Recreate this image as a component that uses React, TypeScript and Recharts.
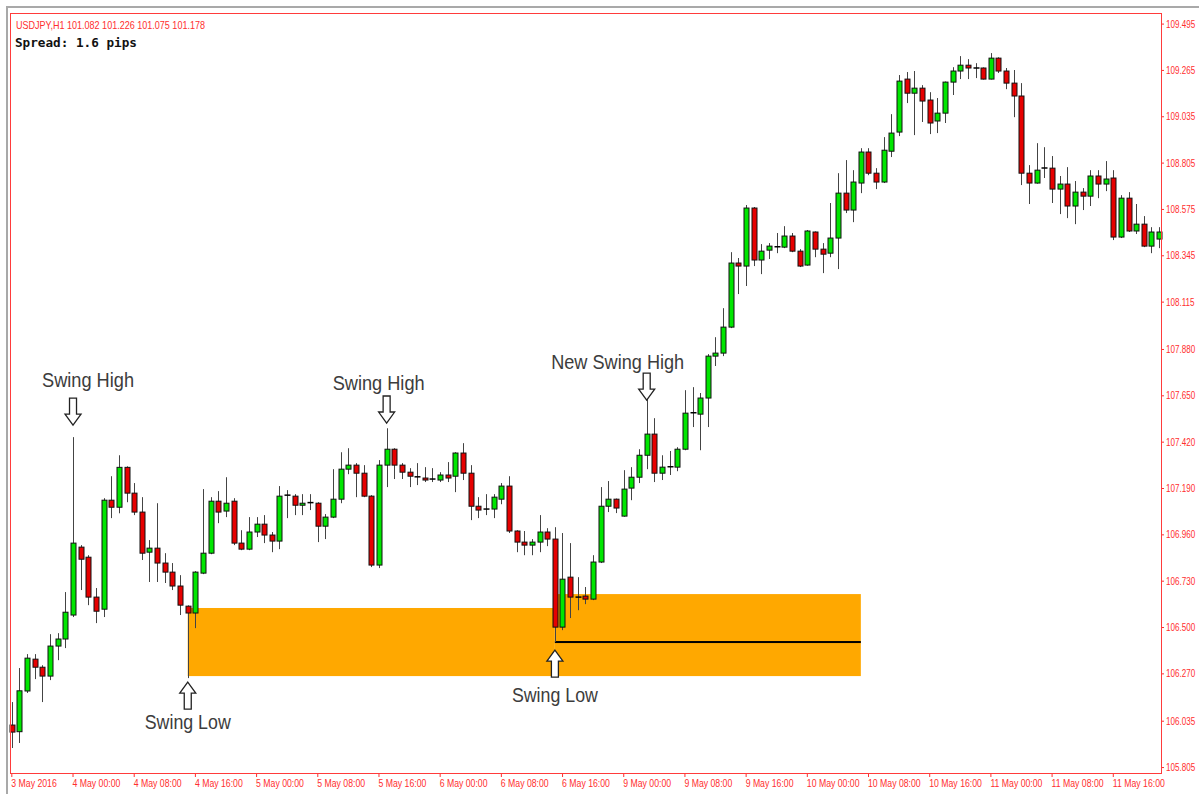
import { Bar, ComposedChart, ReferenceArea, ReferenceDot, XAxis, YAxis } from 'recharts';

// USDJPY H1 bars, 3 May 16:00 .. 11 May
const opens = [
	106.016, 105.983, 106.185, 106.343, 106.303, 106.259, 106.408, 106.443, 106.562, 106.899,
	106.849, 106.651, 106.591, 107.132, 107.097, 107.295, 107.167, 107.073, 106.874, 106.894,
	106.82, 106.775, 106.706, 106.606, 106.572, 106.77, 106.869, 107.127, 107.078, 107.127,
	106.919, 106.889, 106.974, 107.013, 106.959, 106.929, 107.152, 107.152, 107.107, 107.117,
	107.117, 107.003, 107.048, 107.137, 107.286, 107.306, 107.266, 107.152, 106.81, 107.306,
	107.385, 107.306, 107.271, 107.248, 107.242, 107.237, 107.232, 107.257, 107.251, 107.366,
	107.266, 107.102, 107.088, 107.088, 107.137, 107.202, 106.979, 106.924, 106.909, 106.924,
	106.974, 106.939, 106.502, 106.75, 106.651, 106.656, 106.641, 106.825, 107.102, 107.137,
	107.053, 107.192, 107.246, 107.355, 107.46, 107.266, 107.296, 107.296, 107.385, 107.564,
	107.559, 107.639, 107.847, 107.862, 107.991, 108.309, 108.294, 108.582, 108.324, 108.373,
	108.388, 108.388, 108.443, 108.368, 108.299, 108.463, 108.378, 108.358, 108.433, 108.656,
	108.572, 108.706, 108.86, 108.755, 108.711, 108.864, 108.959, 109.222, 109.152, 109.177,
	109.118, 109.014, 109.053, 109.207, 109.262, 109.291, 109.277, 109.277, 109.222, 109.326,
	109.262, 109.202, 109.138, 108.755, 108.706, 108.78, 108.78, 108.676, 108.701, 108.592,
	108.661, 108.641, 108.741, 108.701, 108.731, 108.438, 108.631, 108.468, 108.502, 108.393, 108.428,
];
const highs = [
	106.13, 106.299, 106.368, 106.368, 106.313, 106.467, 106.472, 106.676, 107.445, 106.909,
	106.859, 106.696, 107.142, 107.251, 107.355, 107.3, 107.217, 107.147, 106.934, 107.117,
	106.869, 106.82, 106.76, 106.61, 106.78, 107.187, 107.147, 107.177, 107.246, 107.142,
	106.983, 107.048, 107.048, 107.058, 106.974, 107.202, 107.182, 107.162, 107.162, 107.162,
	107.122, 107.063, 107.286, 107.37, 107.39, 107.316, 107.306, 107.157, 107.331, 107.489,
	107.39, 107.316, 107.291, 107.316, 107.296, 107.291, 107.271, 107.321, 107.37, 107.415,
	107.306, 107.147, 107.162, 107.162, 107.217, 107.251, 106.983, 106.979, 106.939, 107.058,
	106.993, 106.998, 106.969, 106.919, 106.75, 106.701, 106.859, 107.197, 107.227, 107.14,
	107.281, 107.296, 107.385, 107.634, 107.539, 107.355, 107.376, 107.395, 107.678, 107.693,
	107.664, 107.857, 107.941, 108.085, 108.363, 108.334, 108.597, 108.587, 108.403, 108.408,
	108.458, 108.492, 108.458, 108.378, 108.473, 108.466, 108.408, 108.607, 108.755, 108.82,
	108.77, 108.879, 108.879, 108.78, 108.934, 109.048, 109.242, 109.257, 109.262, 109.192,
	109.157, 109.128, 109.21, 109.281, 109.336, 109.321, 109.301, 109.28, 109.351, 109.33,
	109.277, 109.267, 109.202, 108.795, 108.904, 108.884, 108.84, 108.741, 108.785, 108.716,
	108.681, 108.77, 108.77, 108.815, 108.77, 108.646, 108.661, 108.602, 108.542, 108.487, 108.487,
];
const lows = [
	105.902, 105.927, 106.175, 106.244, 106.13, 106.239, 106.338, 106.398, 106.552, 106.686,
	106.611, 106.522, 106.552, 107.043, 107.067, 107.122, 107.058, 106.835, 106.726, 106.726,
	106.721, 106.686, 106.562, 106.249, 106.497, 106.765, 106.864, 107.018, 107.048, 106.909,
	106.884, 106.884, 106.949, 106.919, 106.874, 106.889, 107.043, 107.058, 107.058, 107.083,
	106.924, 106.939, 107.043, 107.117, 107.261, 107.147, 107.147, 106.8, 106.795, 107.197,
	107.237, 107.237, 107.197, 107.207, 107.222, 107.222, 107.222, 107.222, 107.172, 107.232,
	107.033, 107.043, 107.058, 107.043, 107.112, 106.969, 106.874, 106.859, 106.859, 106.874,
	106.904, 106.428, 106.487, 106.547, 106.586, 106.616, 106.636, 106.82, 107.073, 107.068,
	107.05, 107.132, 107.217, 107.286, 107.222, 107.232, 107.257, 107.276, 107.38, 107.495,
	107.38, 107.495, 107.798, 107.847, 107.986, 108.155, 108.195, 108.294, 108.254, 108.329,
	108.358, 108.383, 108.363, 108.289, 108.296, 108.338, 108.259, 108.338, 108.279, 108.557,
	108.512, 108.656, 108.745, 108.676, 108.706, 108.835, 108.939, 109.103, 108.944, 109.009,
	108.949, 108.954, 109.004, 109.143, 109.222, 109.222, 109.227, 109.22, 109.22, 109.252,
	109.172, 109.033, 108.696, 108.602, 108.703, 108.731, 108.607, 108.552, 108.532, 108.502,
	108.572, 108.592, 108.631, 108.666, 108.423, 108.433, 108.463, 108.453, 108.388, 108.358, 108.383,
];
const closes = [
	105.981, 106.186, 106.348, 106.303, 106.259, 106.408, 106.443, 106.576, 106.919, 106.839,
	106.651, 106.581, 107.132, 107.097, 107.295, 107.167, 107.073, 106.869, 106.894, 106.82,
	106.775, 106.706, 106.611, 106.572, 106.775, 106.869, 107.127, 107.073, 107.117, 106.919,
	106.889, 106.974, 107.013, 106.959, 106.929, 107.152, 107.157, 107.107, 107.117, 107.12,
	107.003, 107.048, 107.137, 107.286, 107.306, 107.266, 107.152, 106.81, 107.306, 107.385,
	107.306, 107.271, 107.251, 107.246, 107.232, 107.236, 107.257, 107.242, 107.366, 107.266,
	107.102, 107.083, 107.087, 107.147, 107.202, 106.979, 106.924, 106.909, 106.924, 106.974,
	106.939, 106.502, 106.74, 106.651, 106.65, 106.641, 106.825, 107.102, 107.137, 107.093,
	107.187, 107.246, 107.355, 107.46, 107.266, 107.296, 107.298, 107.385, 107.564, 107.566,
	107.639, 107.847, 107.862, 107.991, 108.309, 108.294, 108.582, 108.324, 108.368, 108.393,
	108.39, 108.443, 108.368, 108.294, 108.468, 108.378, 108.353, 108.433, 108.656, 108.572,
	108.711, 108.86, 108.755, 108.711, 108.869, 108.954, 109.212, 109.152, 109.177, 109.113,
	109.004, 109.053, 109.207, 109.262, 109.291, 109.277, 109.276, 109.222, 109.326, 109.262,
	109.202, 109.138, 108.755, 108.706, 108.77, 108.781, 108.676, 108.701, 108.592, 108.661,
	108.641, 108.741, 108.701, 108.726, 108.438, 108.631, 108.468, 108.502, 108.393, 108.463, 108.463,
];

// one label every 8 bars
const timeLabels = [
	'3 May 2016', '4 May 00:00', '4 May 08:00', '4 May 16:00', '5 May 00:00', '5 May 08:00',
	'5 May 16:00', '6 May 00:00', '6 May 08:00', '6 May 16:00', '9 May 00:00', '9 May 08:00',
	'9 May 16:00', '10 May 00:00', '10 May 08:00', '10 May 16:00', '11 May 00:00', '11 May 08:00',
	'11 May 16:00',
];
const priceTicks = [
	105.805, 106.035, 106.27, 106.5, 106.73, 106.96, 107.19, 107.42, 107.65, 107.88,
	108.115, 108.345, 108.575, 108.805, 109.035, 109.265, 109.495,
];

const headerText = 'USDJPY,H1  101.082 101.226 101.075 101.178';
const spreadText = 'Spread: 1.6 pips';

// swing points: bar index + price of the arrow tip
const swingBars = [8, 49, 83, 23, 71];
const swingTips = [107.505, 107.515, 107.629, 106.229, 106.388];
const swingDirs = ['down', 'down', 'down', 'up', 'up'];
const swingNames = ['Swing High', 'Swing High', 'New Swing High', 'Swing Low', 'Swing Low'];
// caption placement relative to the arrow tip
const captionPos = [
	{ dx: 15, dy: -38, w: 92 },
	{ dx: -8, dy: -33, w: 92 },
	{ dx: -29, dy: -31, w: 133 },
	{ dx: 0, dy: 47, w: 86 },
	{ dx: 0, dy: 52, w: 86 },
];

// support zones
const zoneFrom = [23, 71];
const zoneTo = [70, 110];
const zoneLow = [106.259, 106.259];
const zoneHigh = [106.597, 106.666];
const swingLowLevel = 106.428;

const data = opens.map((o, i) => ({
	i,
	o,
	h: highs[i],
	l: lows[i],
	c: closes[i],
	range: [lows[i], highs[i]],
}));

const RED = '#ff2e2e';
const HALF_BAND = 3.8;

const Candle = (props: any) => {
	const { x, y, width, height, payload } = props;
	const top = Math.min(y, y + height);
	const span = Math.abs(height);
	const { o, h, l, c } = payload;
	const k = h === l ? 0 : span / (h - l);
	const py = (v: number) => top + (h - v) * k;
	const cx = Math.round(x + width / 2) + 0.5;
	const bt = py(Math.max(o, c));
	const bb = py(Math.min(o, c));
	return (
		<g>
			<line x1={cx} x2={cx} y1={top} y2={top + span} stroke='#444' strokeWidth={1} />
			{bb - bt < 1.5 ? (
				<line x1={cx - 3} x2={cx + 3} y1={bt} y2={bt} stroke='#000' strokeWidth={1.5} />
			) : (
				<rect
					x={cx - 2.5}
					y={bt}
					width={5}
					height={bb - bt}
					fill={c >= o ? '#00e600' : '#e60000'}
					stroke='#111'
					strokeWidth={1}
				/>
			)}
		</g>
	);
};

// price labels are squeezed horizontally like the terminal font
const PriceTick = (props: any) => {
	const { x, y, payload } = props;
	return (
		<g>
			<line x1={x - 2} x2={x + 1} y1={y} y2={y} stroke={RED} />
			<text
				transform={`translate(${x + 3},${y + 3.5}) scale(0.77,1)`}
				fontSize={10.5}
				fontFamily='Liberation Sans'
				fill={RED}
			>
				{payload.value.toFixed(3)}
			</text>
		</g>
	);
};

const TimeTick = (props: any) => {
	const { x, y, payload } = props;
	const label = timeLabels[payload.value / 8];
	if (!label) return null;
	return (
		<g>
			<line x1={x} x2={x} y1={y} y2={y + 4} stroke={RED} />
			<text
				transform={`translate(${x - 0.5},${y + 14}) scale(0.83,1)`}
				fontSize={10.5}
				fontFamily='Liberation Sans'
				fill={RED}
			>
				{label}
			</text>
		</g>
	);
};

const swingShape = (n: number) => (props: any) => {
	const { cx, cy } = props;
	const s = swingDirs[n] === 'down' ? -1 : 1;
	const pts = [
		[cx, cy],
		[cx + 8, cy + s * 11],
		[cx + 3.5, cy + s * 11],
		[cx + 3.5, cy + s * 27],
		[cx - 3.5, cy + s * 27],
		[cx - 3.5, cy + s * 11],
		[cx - 8, cy + s * 11],
	]
		.map((p) => p.join(','))
		.join(' ');
	const cp = captionPos[n];
	return (
		<g>
			<polygon points={pts} fill='#fff' stroke='#222' strokeWidth={1.3} />
			<text
				x={cx + cp.dx}
				y={cy + cp.dy}
				textAnchor='middle'
				fontSize={21}
				fontFamily='Liberation Sans'
				fill='#3c3c3c'
				textLength={cp.w}
				lengthAdjust='spacingAndGlyphs'
			>
				{swingNames[n]}
			</text>
		</g>
	);
};

const shiftedRect = (fill: string) => (props: any) => (
	<rect x={props.x + HALF_BAND} y={props.y} width={props.width} height={props.height} fill={fill} />
);

const App = () => {
	return (
		<div style={{ position: 'absolute', left: 0, top: 0, width: 1199, height: 794, background: '#fff', overflow: 'hidden' }}>
			<div
				style={{
					position: 'absolute',
					left: 6,
					top: 6,
					width: 1193,
					height: 788,
					borderLeft: '2px solid #a9a9a9',
					borderTop: '2px solid #a9a9a9',
					boxSizing: 'border-box',
				}}
			/>
			<div style={{ position: 'absolute', left: 0, top: 0 }}>
				<ComposedChart
					width={1199}
					height={794}
					data={data}
					margin={{ top: 13, right: 0, bottom: 0, left: 8 }}
				>
					<XAxis
						dataKey='i'
						type='category'
						interval={7}
						height={21}
						axisLine={false}
						tickLine={false}
						tickSize={0}
						tickMargin={0}
						tick={<TimeTick />}
					/>
					<YAxis
						orientation='right'
						type='number'
						width={36}
						domain={[105.778, 109.55]}
						allowDataOverflow
						ticks={priceTicks}
						interval={0}
						axisLine={false}
						tickLine={false}
						tickSize={0}
						tickMargin={0}
						tick={<PriceTick />}
					/>
					{zoneFrom.map((f, n) => (
						<ReferenceArea
							key={'z' + n}
							x1={f}
							x2={zoneTo[n]}
							y1={zoneLow[n]}
							y2={zoneHigh[n]}
							shape={shiftedRect('#ffa800')}
						/>
					))}
					<ReferenceArea
						x1={zoneFrom[1]}
						x2={zoneTo[1]}
						y1={swingLowLevel - 0.005}
						y2={swingLowLevel + 0.005}
						shape={shiftedRect('#000')}
					/>
					<Bar dataKey='range' isAnimationActive={false} shape={(p: any) => <Candle {...p} />} />
					{swingBars.map((b, n) => (
						<ReferenceDot key={'s' + n} x={b} y={swingTips[n]} r={0} shape={swingShape(n)} />
					))}
				</ComposedChart>
			</div>
			<div
				style={{
					position: 'absolute',
					left: 10,
					top: 13,
					width: 1152,
					height: 761,
					border: '1px solid #ff3b3b',
					boxSizing: 'border-box',
					pointerEvents: 'none',
				}}
			/>
			<svg style={{ position: 'absolute', left: 0, top: 0 }} width={300} height={60}>
				<text
					x={16}
					y={29}
					fontSize={10.5}
					fontFamily='Liberation Sans'
					fill={RED}
					textLength={189}
					lengthAdjust='spacingAndGlyphs'
				>
					{headerText}
				</text>
				<text
					x={15}
					y={47}
					fontSize={13}
					fontWeight='bold'
					fontFamily='DejaVu Sans Mono'
					fill='#111'
					textLength={122}
					lengthAdjust='spacingAndGlyphs'
				>
					{spreadText}
				</text>
			</svg>
		</div>
	);
};

export default App;
